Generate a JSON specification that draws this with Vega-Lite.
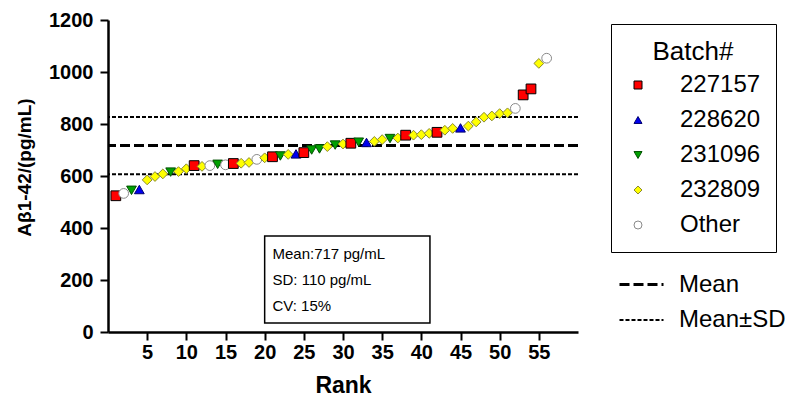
{
  "$schema": "https://vega.github.io/schema/vega-lite/v6.json",
  "width": 470,
  "height": 312,
  "autosize": "none",
  "padding": {"left": 108, "top": 20, "right": 216, "bottom": 72},
  "background": "white",
  "view": {"stroke": null},
  "config": {
    "font": "Liberation Sans",
    "axis": {
      "domainColor": "black",
      "domainWidth": 2.5,
      "tickColor": "black",
      "tickWidth": 2,
      "tickSize": 8,
      "labelColor": "black",
      "titleColor": "black",
      "labelFont": "Liberation Sans",
      "titleFont": "Liberation Sans",
      "labelFontWeight": "bold",
      "titleFontWeight": "bold",
      "grid": false
    },
    "legend": {"labelFont": "Liberation Sans", "titleFont": "Liberation Sans", "labelColor": "black", "titleColor": "black"}
  },
  "layer": [
    {
      "data": {"values": [{}]},
      "mark": {"type": "rect", "fill": "white", "stroke": "black", "strokeWidth": 1.5},
      "encoding": {
        "x": {"datum": 20, "type": "quantitative"},
        "x2": {"datum": 41.1},
        "y": {"datum": 369, "type": "quantitative"},
        "y2": {"datum": 35}
      }
    },
    {
      "data": {"values": [{}]},
      "mark": {"type": "text", "align": "left", "baseline": "middle", "fontSize": 15, "lineHeight": 26, "color": "black", "font": "Liberation Sans"},
      "encoding": {
        "x": {"datum": 21, "type": "quantitative"},
        "y": {"datum": 300, "type": "quantitative"},
        "text": {"value": ["Mean:717 pg/mL", "SD: 110 pg/mL", "CV: 15%"]}
      }
    },
    {
      "data": {"values": [
        {"kind": "Mean", "value": 717},
        {"kind": "Mean±SD", "value": 607},
        {"kind": "Mean±SD", "value": 827}
      ]},
      "mark": {"type": "rule", "color": "black"},
      "encoding": {
        "y": {"field": "value", "type": "quantitative"},
        "strokeDash": {
          "field": "kind", "type": "nominal",
          "scale": {"domain": ["Mean", "Mean±SD"], "range": [[10, 4], [4, 2]]},
          "legend": {
            "title": null, "orient": "none", "legendX": 510, "legendY": 241,
            "labelFontSize": 24, "symbolType": "stroke", "symbolSize": 1936,
            "symbolStrokeColor": "black", "labelOffset": 14, "rowPadding": 0, "padding": 0
          }
        },
        "strokeWidth": {
          "field": "kind", "type": "ordinal",
          "scale": {"domain": ["Mean", "Mean±SD"], "range": [3, 2]}
        }
      }
    },
    {
      "data": {"values": [
        {"rank": 1, "value": 524, "batch": "227157"},
        {"rank": 2, "value": 533, "batch": "Other"},
        {"rank": 3, "value": 545, "batch": "231096"},
        {"rank": 4, "value": 548, "batch": "228620"},
        {"rank": 5, "value": 585, "batch": "232809"},
        {"rank": 6, "value": 598, "batch": "232809"},
        {"rank": 7, "value": 608, "batch": "232809"},
        {"rank": 8, "value": 615, "batch": "231096"},
        {"rank": 9, "value": 617, "batch": "232809"},
        {"rank": 10, "value": 628, "batch": "232809"},
        {"rank": 11, "value": 640, "batch": "227157"},
        {"rank": 12, "value": 637, "batch": "232809"},
        {"rank": 13, "value": 640, "batch": "Other"},
        {"rank": 14, "value": 645, "batch": "231096"},
        {"rank": 15, "value": 643, "batch": "Other"},
        {"rank": 16, "value": 648, "batch": "227157"},
        {"rank": 17, "value": 649, "batch": "232809"},
        {"rank": 18, "value": 652, "batch": "232809"},
        {"rank": 19, "value": 664, "batch": "Other"},
        {"rank": 20, "value": 670, "batch": "232809"},
        {"rank": 21, "value": 674, "batch": "227157"},
        {"rank": 22, "value": 677, "batch": "231096"},
        {"rank": 23, "value": 683, "batch": "232809"},
        {"rank": 24, "value": 685, "batch": "228620"},
        {"rank": 25, "value": 690, "batch": "227157"},
        {"rank": 26, "value": 700, "batch": "231096"},
        {"rank": 27, "value": 704, "batch": "231096"},
        {"rank": 28, "value": 713, "batch": "232809"},
        {"rank": 29, "value": 719, "batch": "231096"},
        {"rank": 30, "value": 723, "batch": "232809"},
        {"rank": 31, "value": 726, "batch": "227157"},
        {"rank": 32, "value": 730, "batch": "231096"},
        {"rank": 33, "value": 729, "batch": "228620"},
        {"rank": 34, "value": 733, "batch": "232809"},
        {"rank": 35, "value": 740, "batch": "232809"},
        {"rank": 36, "value": 744, "batch": "231096"},
        {"rank": 37, "value": 746, "batch": "232809"},
        {"rank": 38, "value": 757, "batch": "227157"},
        {"rank": 39, "value": 757, "batch": "232809"},
        {"rank": 40, "value": 759, "batch": "232809"},
        {"rank": 41, "value": 764, "batch": "232809"},
        {"rank": 42, "value": 768, "batch": "227157"},
        {"rank": 43, "value": 776, "batch": "232809"},
        {"rank": 44, "value": 783, "batch": "232809"},
        {"rank": 45, "value": 785, "batch": "228620"},
        {"rank": 46, "value": 792, "batch": "232809"},
        {"rank": 47, "value": 808, "batch": "232809"},
        {"rank": 48, "value": 826, "batch": "232809"},
        {"rank": 49, "value": 831, "batch": "232809"},
        {"rank": 50, "value": 840, "batch": "232809"},
        {"rank": 51, "value": 843, "batch": "232809"},
        {"rank": 52, "value": 860, "batch": "Other"},
        {"rank": 53, "value": 912, "batch": "227157"},
        {"rank": 54, "value": 935, "batch": "227157"},
        {"rank": 55, "value": 1033, "batch": "232809"},
        {"rank": 56, "value": 1053, "batch": "Other"}
      ]},
      "mark": {"type": "point", "filled": true, "size": 95, "strokeWidth": 1, "opacity": 1},
      "encoding": {
        "x": {
          "field": "rank", "type": "quantitative",
          "scale": {"domain": [0, 60], "nice": false},
          "axis": {"title": "Rank", "values": [5, 10, 15, 20, 25, 30, 35, 40, 45, 50, 55], "labelFontSize": 20, "titleFontSize": 23, "labelPadding": 2, "titlePadding": 12}
        },
        "y": {
          "field": "value", "type": "quantitative",
          "scale": {"domain": [0, 1200], "nice": false},
          "axis": {"title": "Aβ1-42/(pg/mL)", "format": "d", "values": [0, 200, 400, 600, 800, 1000, 1200], "labelFontSize": 20, "titleFontSize": 19, "labelPadding": 7, "titleX": -84, "titleY": 147, "titleBaseline": "middle"}
        },
        "shape": {
          "field": "batch", "type": "nominal",
          "scale": {"domain": ["227157", "228620", "231096", "232809", "Other"], "range": ["square", "triangle-up", "triangle-down", "diamond", "circle"]},
          "legend": {
            "title": "Batch#", "orient": "none", "legendX": 503, "legendY": 4,
            "titleFontSize": 26, "titleFontWeight": "normal", "titleAnchor": "middle", "titlePadding": 8,
            "labelFontSize": 24, "symbolSize": 64, "symbolStrokeWidth": 1,
            "labelOffset": 30, "rowPadding": 11, "padding": 15,
            "strokeColor": "black", "labelExpr": "datum.label + '\u00a0\u00a0\u00a0'"
          }
        },
        "fill": {
          "field": "batch", "type": "nominal",
          "scale": {"domain": ["227157", "228620", "231096", "232809", "Other"], "range": ["#ff0000", "#0000ee", "#00a000", "#ffff00", "#ffffff"]}
        },
        "stroke": {
          "field": "batch", "type": "nominal",
          "scale": {"domain": ["227157", "228620", "231096", "232809", "Other"], "range": ["#000000", "#000070", "#005000", "#8a8a30", "#8a8a8a"]}
        }
      }
    }
  ]
}
